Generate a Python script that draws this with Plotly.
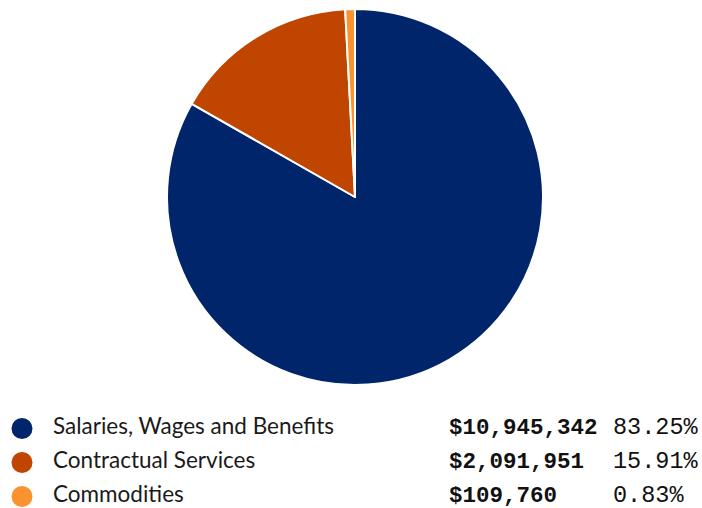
import plotly.graph_objects as go

categories = ["Salaries, Wages and Benefits", "Contractual Services", "Commodities"]
amounts = [10945342, 2091951, 109760]
percents = [83.25, 15.91, 0.83]
colors = ["#00256a", "#c04500", "#fa922f"]

W, H = 702, 508

fig = go.Figure()

fig.add_trace(go.Pie(
    labels=categories,
    values=amounts,
    sort=False,
    direction="clockwise",
    rotation=0,
    marker=dict(colors=colors, line=dict(color="white", width=2)),
    textinfo="none",
    hoverinfo="label+value+percent",
    showlegend=False,
    domain=dict(x=[167 / W, 543 / W], y=[(H - 385) / H, (H - 9) / H]),
))

# legend table: rows indexed 0..n-1 on a hidden pixel-scaled axis
rows = list(range(len(categories)))
fig.add_trace(go.Scatter(
    x=[22] * len(rows), y=rows, mode="markers",
    marker=dict(size=21, color=colors), hoverinfo="skip", showlegend=False,
))
fig.add_trace(go.Scatter(
    x=[53] * len(rows), y=rows, mode="text", text=categories,
    textposition="middle right",
    textfont=dict(family="Lato", size=22.5, color="#1a1a1a"),
    hoverinfo="skip", showlegend=False,
))
fig.add_trace(go.Scatter(
    x=[449] * len(rows), y=rows, mode="text",
    text=["<b>${:,}</b>".format(a) for a in amounts],
    textposition="middle right",
    textfont=dict(family="Liberation Mono", size=22.5, color="#111111"),
    hoverinfo="skip", showlegend=False,
))
fig.add_trace(go.Scatter(
    x=[613] * len(rows), y=rows, mode="text",
    text=["{:.2f}%".format(p) for p in percents],
    textposition="middle right",
    textfont=dict(family="Liberation Mono", size=23.5, color="#111111"),
    hoverinfo="skip", showlegend=False,
))

# rows sit 34 px apart, first row centred at y=428 px from the top
row_top, row_gap, band_top = 428.5, 34, 410
fig.update_layout(
    width=W, height=H,
    margin=dict(l=0, r=0, t=0, b=0),
    paper_bgcolor="white", plot_bgcolor="white",
    xaxis=dict(range=[0, W], domain=[0, 1], visible=False, fixedrange=True),
    yaxis=dict(range=[(H - row_top) / row_gap, (band_top - row_top) / row_gap],
               domain=[0, (H - band_top) / H], visible=False, fixedrange=True),
)

fig.write_html("out.html")
